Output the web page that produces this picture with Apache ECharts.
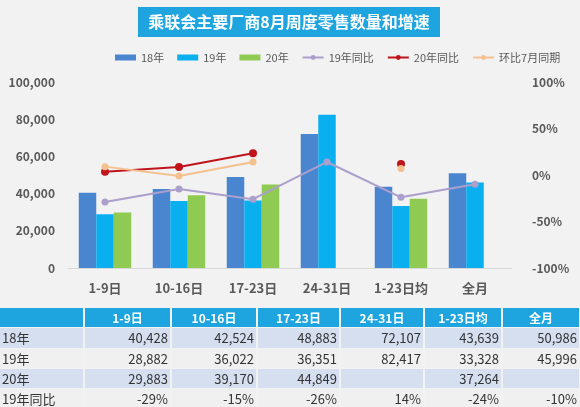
<!DOCTYPE html>
<html>
<head>
<meta charset="utf-8">
<script src="https://cdn.jsdelivr.net/npm/echarts@6/dist/echarts.min.js"></script>
<style>
html,body{margin:0;padding:0;background:#f2f2f2;}
#c{width:580px;height:407px;}
</style>
</head>
<body>
<div id="c"></div>
<script>
const categories = ['1-9日','10-16日','17-23日','24-31日','1-23日均','全月'];
const sales18 = [40428,42524,48883,72107,43639,50986];
const sales19 = [28882,36022,36351,82417,33328,45996];
const sales20 = [29883,39170,44849,null,37264,null];
const yoy19 = [-29,-15,-26,14,-24,-10];
const yoy20 = [3.5,8.7,23.4,null,11.8,null];
const momJuly = [9,-1,14,null,7,null];
const tableRowLabels = ['18年','19年','20年','19年同比'];
const titleText = '乘联会主要厂商8月周度零售数量和增速';

const FONT = '"Noto Sans CJK SC", "Noto Sans", sans-serif';
const chart = echarts.init(document.getElementById('c'));

// table layout
const colEdges = [0, 84, 171, 257, 340, 424, 502, 580];
const rowTops = [308, 328, 349, 369, 389];
const rowH = [20, 21, 20, 20, 20];
const fmt = v => v == null ? '' : v.toLocaleString('en-US');
const tableRows = [
  sales18.map(fmt),
  sales19.map(fmt),
  sales20.map(fmt),
  yoy19.map(v => v + '%')
];
const rowBg = ['#d5dff0', '#f0f0f0', '#d5dff0', '#f0f0f0'];

const graphics = [];
// title box
graphics.push({
  type: 'rect', left: 138, top: 7, shape: {width: 302, height: 30},
  style: {fill: '#1ea5df'}
});
graphics.push({
  type: 'text', x: 289, y: 22,
  style: {text: titleText, fill: '#ffffff', font: 'bold 16px ' + FONT, align: 'center', verticalAlign: 'middle'}
});
// header row
for (let c = 0; c < 7; c++) {
  graphics.push({
    type: 'rect', x: colEdges[c] + (c ? 1 : 0), y: rowTops[0],
    shape: {width: colEdges[c+1] - colEdges[c] - (c ? 2 : 1), height: rowH[0] - 1},
    style: {fill: '#1ea5df'}
  });
  if (c > 0) {
    graphics.push({
      type: 'text', x: (colEdges[c] + colEdges[c+1]) / 2, y: rowTops[0] + rowH[0] / 2,
      style: {text: categories[c-1], fill: '#ffffff', font: 'bold 12px ' + FONT, align: 'center', verticalAlign: 'middle'}
    });
  }
}
// body rows
for (let r = 0; r < tableRows.length; r++) {
  const y0 = rowTops[r+1];
  for (let c = 0; c < 7; c++) {
    graphics.push({
      type: 'rect', x: colEdges[c] + (c ? 1 : 0), y: y0,
      shape: {width: colEdges[c+1] - colEdges[c] - (c ? 2 : 1), height: rowH[r+1] - 1},
      style: {fill: rowBg[r]}
    });
  }
  graphics.push({
    type: 'text', x: 2, y: y0 + rowH[r+1] / 2,
    style: {text: tableRowLabels[r], fill: '#333333', font: '13px ' + FONT, align: 'left', verticalAlign: 'middle'}
  });
  for (let c = 0; c < 6; c++) {
    graphics.push({
      type: 'text', x: colEdges[c+2] - 3, y: y0 + rowH[r+1] / 2,
      style: {text: tableRows[r][c], fill: '#333333', font: '13px ' + FONT, align: 'right', verticalAlign: 'middle'}
    });
  }
}

const axisLabelStyle = {color: '#595959', fontWeight: 'bold', fontSize: 12, fontFamily: FONT};

chart.setOption({
  backgroundColor: '#f2f2f2',
  animation: false,
  textStyle: {fontFamily: FONT},
  legend: {
    left: 110, top: 47, itemGap: 13, itemWidth: 21, itemHeight: 6,
    textStyle: {color: '#595959', fontSize: 11, fontFamily: FONT},
    data: [
      {name: '18年', icon: 'rect'},
      {name: '19年', icon: 'rect'},
      {name: '20年', icon: 'rect'},
      {name: '19年同比'},
      {name: '20年同比'},
      {name: '环比7月同期'}
    ]
  },
  grid: {left: 68, right: 68, top: 82, bottom: 139},
  xAxis: {
    type: 'category', data: categories,
    axisLine: {lineStyle: {color: '#d9d9d9'}},
    axisTick: {show: false},
    axisLabel: {color: '#595959', fontWeight: 'bold', fontSize: 13, fontFamily: FONT, margin: 14}
  },
  yAxis: [
    {
      type: 'value', min: 0, max: 100000, interval: 20000,
      splitLine: {show: false}, axisLine: {show: false}, axisTick: {show: false},
      axisLabel: Object.assign({margin: 13, formatter: v => v.toLocaleString('en-US')}, axisLabelStyle)
    },
    {
      type: 'value', min: -100, max: 100, interval: 50,
      splitLine: {show: false}, axisLine: {show: false}, axisTick: {show: false},
      axisLabel: Object.assign({margin: 20, formatter: '{value}%'}, axisLabelStyle)
    }
  ],
  series: [
    {name: '18年', type: 'bar', data: sales18, barWidth: 17.5, barGap: '0%', itemStyle: {color: '#4a86d0'}},
    {name: '19年', type: 'bar', data: sales19, barWidth: 17.5, barGap: '0%', itemStyle: {color: '#0aaff0'}},
    {name: '20年', type: 'bar', data: sales20, barWidth: 17.5, barGap: '0%', itemStyle: {color: '#8fcb52'}},
    {name: '19年同比', type: 'line', yAxisIndex: 1, data: yoy19, symbol: 'circle', symbolSize: 7,
      lineStyle: {color: '#ab9fcc', width: 2}, itemStyle: {color: '#ab9fcc'}},
    {name: '20年同比', type: 'line', yAxisIndex: 1, data: yoy20, symbol: 'circle', symbolSize: 8,
      showAllSymbol: true, connectNulls: false,
      lineStyle: {color: '#c0141c', width: 2}, itemStyle: {color: '#c0141c'}},
    {name: '环比7月同期', type: 'line', yAxisIndex: 1, data: momJuly, symbol: 'circle', symbolSize: 7,
      showAllSymbol: true, connectNulls: false,
      lineStyle: {color: '#f5c08f', width: 2}, itemStyle: {color: '#f5c08f'}}
  ],
  graphic: graphics
});
</script>
</body>
</html>
